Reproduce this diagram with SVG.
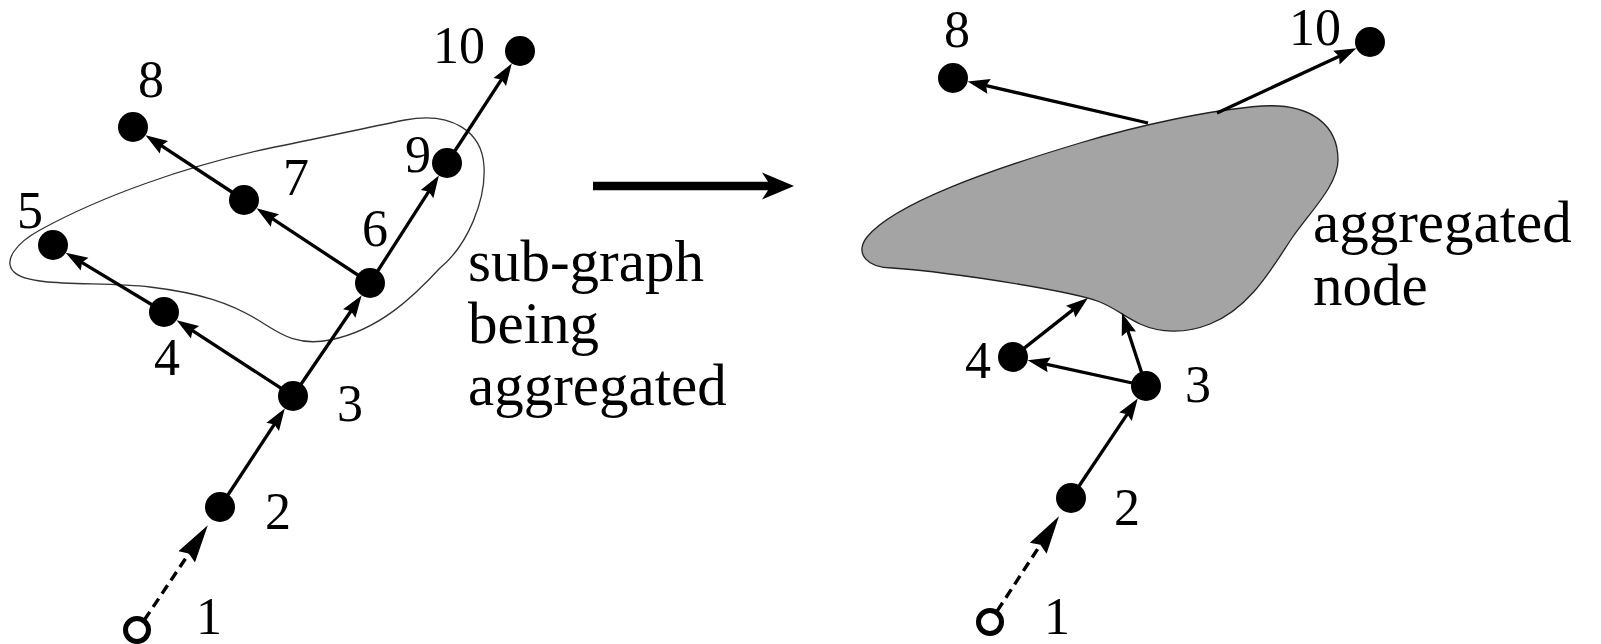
<svg xmlns="http://www.w3.org/2000/svg" width="1601" height="644" viewBox="0 0 1601 644">
  <style>
    .lbl { font-family: "Liberation Serif", "DejaVu Serif", serif; font-size: 52px; fill: #000; }
    .txt { font-family: "Liberation Serif", "DejaVu Serif", serif; font-size: 59px; fill: #000; }
    .edge { stroke: #000; stroke-width: 3.3; fill: none; marker-end: url(#head); }
    .dash { stroke: #000; stroke-width: 3.4; fill: none; stroke-dasharray: 10 6; marker-end: url(#dhead); }
    .node { fill: #000; }
    .start { fill: none; stroke: #000; stroke-width: 5; }
  </style>
  <defs>
    <marker id="head" markerUnits="userSpaceOnUse" viewBox="0 -8 32 16" markerWidth="32" markerHeight="16" refX="24" refY="0" orient="auto">
      <path d="M32,0 L10,-7.5 L13,0 L10,7.5 Z" fill="#000"/>
    </marker>
    <marker id="dhead" markerUnits="userSpaceOnUse" viewBox="0 -11 38 22" markerWidth="38" markerHeight="22" refX="13" refY="0" orient="auto">
      <path d="M38,0 L0,-10 L4,0 L0,10 Z" fill="#000"/>
    </marker>
  </defs>

  <!-- left: sub-graph outline -->
  <path id="subgraph-outline" d="M14,272 C2,260 18,242 40,230 C100,197 185,166 275,147 C330,136 370,127 405,120 C452,111 482,132 484,166 C486,200 468,245 440,268 C415,295 380,330 330,340 C295,347 278,332 258,320 C230,303 200,293 150,287 C100,281 30,288 14,272 Z" fill="none" stroke="#333" stroke-width="1.3"/>

  <!-- right: aggregated node shape -->
  <path id="aggregate-shape" d="M892,268 C868,268 854,254 867,237 C895,203 990,170 1080,143 C1140,125 1210,110 1262,106 C1312,103 1338,126 1338,160 C1338,185 1310,212 1292,238 C1272,268 1250,308 1210,324 C1185,334 1160,333 1140,324 C1125,317 1115,308 1100,302 C1075,292 960,273 892,268 Z" fill="#a4a4a4" stroke="#222" stroke-width="1.3"/>

  <g id="connectors">
    <!-- left graph -->
    <line class="dash" x1="144.2" y1="620.2" x2="193.9" y2="546.1"/>
    <line class="edge" x1="220" y1="507" x2="280.4" y2="415.2"/>
    <line class="edge" x1="293" y1="396" x2="357.1" y2="302"/>
    <line class="edge" x1="370" y1="283" x2="434.6" y2="182.3"/>
    <line class="edge" x1="447" y1="163" x2="507.4" y2="70.3"/>
    <line class="edge" x1="293" y1="396" x2="183.3" y2="324.6"/>
    <line class="edge" x1="164" y1="312" x2="72.6" y2="256.9"/>
    <line class="edge" x1="370" y1="283" x2="263.2" y2="212.7"/>
    <line class="edge" x1="244" y1="200" x2="152.2" y2="139.6"/>
    <!-- transformation arrow -->
    <path d="M593,181.8 L768,181.8 L762,172.5 L794,186 L762,199.5 L768,190.2 L593,190.2 Z" fill="#000"/>
    <!-- right graph -->
    <line class="dash" x1="997.1" y1="611.1" x2="1045.3" y2="537.3"/>
    <line class="edge" x1="1071" y1="498" x2="1133.3" y2="405.1"/>
    <line class="edge" x1="1146" y1="386" x2="1035.5" y2="361.9"/>
    <line class="edge" x1="1013" y1="357" x2="1081.7" y2="302.9"/>
    <line class="edge" x1="1146" y1="386" x2="1124.5" y2="320.6"/>
    <line class="edge" x1="1148" y1="123" x2="975.4" y2="83.2"/>
    <line class="edge" x1="1217" y1="113" x2="1349.1" y2="51.7"/>
  </g>

  <!-- left graph nodes -->
  <g id="L1"><circle class="start" cx="137" cy="630" r="11.5"/><text class="lbl" x="196" y="634">1</text></g>
  <g id="L2"><circle class="node" cx="220" cy="507" r="15"/><text class="lbl" x="265" y="529">2</text></g>
  <g id="L3"><circle class="node" cx="293" cy="396" r="15"/><text class="lbl" x="337" y="421">3</text></g>
  <g id="L4"><circle class="node" cx="164" cy="312" r="15"/><text class="lbl" x="154" y="375">4</text></g>
  <g id="L5"><circle class="node" cx="53" cy="245" r="15"/><text class="lbl" x="17" y="228">5</text></g>
  <g id="L6"><circle class="node" cx="370" cy="283" r="15"/><text class="lbl" x="362" y="246">6</text></g>
  <g id="L7"><circle class="node" cx="244" cy="200" r="15"/><text class="lbl" x="283" y="195">7</text></g>
  <g id="L8"><circle class="node" cx="133" cy="127" r="15"/><text class="lbl" x="138" y="97">8</text></g>
  <g id="L9"><circle class="node" cx="447" cy="163" r="15"/><text class="lbl" x="405" y="172">9</text></g>
  <g id="L10"><circle class="node" cx="520" cy="51" r="15"/><text class="lbl" x="433" y="63">10</text></g>
  <g id="subgraph-label">
    <text class="txt" x="468" y="281">sub-graph</text>
    <text class="txt" x="468" y="343">being</text>
    <text class="txt" x="468" y="405">aggregated</text>
  </g>

  <!-- right graph nodes -->
  <g id="R1"><circle class="start" cx="990" cy="622" r="11.5"/><text class="lbl" x="1044" y="634">1</text></g>
  <g id="R2"><circle class="node" cx="1071" cy="498" r="15"/><text class="lbl" x="1114" y="525">2</text></g>
  <g id="R3"><circle class="node" cx="1146" cy="386" r="15"/><text class="lbl" x="1185" y="402">3</text></g>
  <g id="R4"><circle class="node" cx="1013" cy="357" r="15"/><text class="lbl" x="965" y="378">4</text></g>
  <g id="R8"><circle class="node" cx="953" cy="78" r="15"/><text class="lbl" x="944" y="47">8</text></g>
  <g id="R10"><circle class="node" cx="1370" cy="42" r="15"/><text class="lbl" x="1289" y="45">10</text></g>
  <g id="aggregate-label">
    <text class="txt" x="1313" y="242">aggregated</text>
    <text class="txt" x="1313" y="305">node</text>
  </g>
</svg>
